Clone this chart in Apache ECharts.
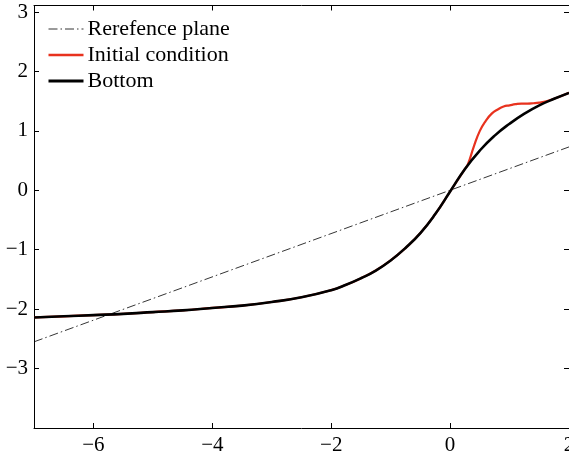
<!DOCTYPE html>
<html>
<head>
<meta charset="utf-8">
<script src="https://cdn.jsdelivr.net/npm/echarts@6/dist/echarts.min.js"></script>
<style>
  html, body { margin: 0; padding: 0; background: #fff; }
  #chart { width: 569px; height: 457px; }
</style>
</head>
<body>
<div id="chart"></div>
<script>
// values
const xBottom = [-7, -6.5, -6, -5.5, -5, -4.5, -4, -3.5, -3, -2.5, -2, -1.75, -1.5, -1.25, -1, -0.75, -0.5, -0.25, 0, 0.25, 0.5, 0.75, 1, 1.25, 1.5, 1.75, 2];
const yBottom = [-2.14, -2.12, -2.10, -2.08, -2.05, -2.02, -1.98, -1.94, -1.88, -1.80, -1.68, -1.59, -1.48, -1.35, -1.18, -0.97, -0.72, -0.40, -0.02, 0.36, 0.67, 0.92, 1.12, 1.29, 1.43, 1.54, 1.64];

const xInitial = [-7, -6.5, -6, -5.5, -5, -4.5, -4, -3.5, -3, -2.5, -2, -1.75, -1.5, -1.25, -1, -0.75, -0.5, -0.25, 0, 0.25, 0.3, 0.4, 0.5, 0.6, 0.7, 0.8, 0.9, 1.0, 1.1, 1.2, 1.3, 1.4, 1.5, 1.6, 1.75, 2];
const yInitial = [-2.14, -2.12, -2.10, -2.08, -2.05, -2.02, -1.98, -1.94, -1.88, -1.80, -1.68, -1.59, -1.48, -1.35, -1.18, -0.97, -0.72, -0.40, -0.02, 0.36, 0.44, 0.74, 1.00, 1.17, 1.29, 1.36, 1.41, 1.43, 1.45, 1.46, 1.46, 1.465, 1.475, 1.495, 1.54, 1.64];

const xPlane = [-7, 2];
const yPlane = [-2.55, 0.73];

const xTicks = [-6, -4, -2, 0, 2];
const yTicks = [-3, -2, -1, 0, 1, 2, 3];

const names = ['Rerefence plane', 'Initial condition', 'Bottom'];

const pairs = (xs, ys) => xs.map((x, i) => [x, ys[i]]);
const fmt = v => (v < 0 ? '\u2212' + Math.abs(v) : String(v));
const font = 'Liberation Serif';

const axisBase = {
	type: 'value',
	axisLine: { show: true, onZero: false, lineStyle: { color: '#000', width: 1 } },
	axisTick: { show: true, inside: true, length: 5, lineStyle: { color: '#000' } },
	splitLine: { show: false }
};

const chart = echarts.init(document.getElementById('chart'));
chart.setOption({
	animation: false,
	backgroundColor: '#fff',
	textStyle: { fontFamily: font },
	grid: { left: 34, right: 0, top: 5.5, bottom: 29, containLabel: false, outerBoundsMode: 'none' },
	legend: {
		left: 47,
		top: 18,
		padding: 0,
		orient: 'vertical',
		itemGap: 4,
		itemWidth: 35,
		itemHeight: 14,
		data: [
			{ name: names[0], lineStyle: { width: 0.8 } },
			{ name: names[1], lineStyle: { width: 2.5 } },
			{ name: names[2], lineStyle: { width: 3 } }
		],
		itemStyle: { opacity: 0 },
		textStyle: { fontFamily: font, fontSize: 22, lineHeight: 22, color: '#000', padding: [0, 0, 0, -1] }
	},
	xAxis: [
		Object.assign({}, axisBase, {
			min: -7, max: 2, position: 'bottom',
			axisTick: Object.assign({}, axisBase.axisTick, { customValues: xTicks }),
			axisLabel: { customValues: xTicks, formatter: fmt, fontFamily: font, fontSize: 21, color: '#000', margin: 7 }
		}),
		Object.assign({}, axisBase, {
			min: -7, max: 2, position: 'top',
			axisTick: Object.assign({}, axisBase.axisTick, { customValues: xTicks }),
			axisLabel: { show: false }
		})
	],
	yAxis: [
		Object.assign({}, axisBase, {
			min: -4, max: 3.11, position: 'left',
			axisTick: Object.assign({}, axisBase.axisTick, { customValues: yTicks }),
			axisLabel: { customValues: yTicks, formatter: fmt, fontFamily: font, fontSize: 21, color: '#000', margin: 6 }
		}),
		Object.assign({}, axisBase, {
			min: -4, max: 3.11, position: 'right',
			axisTick: Object.assign({}, axisBase.axisTick, { customValues: yTicks }),
			axisLabel: { show: false }
		})
	],
	series: [
		{
			name: names[0],
			type: 'line',
			symbol: 'none',
			data: pairs(xPlane, yPlane),
			lineStyle: { color: '#000', width: 0.8, type: [9, 3, 1.5, 3] },
			itemStyle: { color: '#000' },
			z: 2
		},
		{
			name: names[1],
			type: 'line',
			symbol: 'none',
			smooth: 0.5,
			data: pairs(xInitial, yInitial),
			lineStyle: { color: '#e8321e', width: 2.2 },
			itemStyle: { color: '#e8321e' },
			z: 3
		},
		{
			name: names[2],
			type: 'line',
			symbol: 'none',
			smooth: 0.5,
			data: pairs(xBottom, yBottom),
			lineStyle: { color: '#000', width: 2.6 },
			itemStyle: { color: '#000' },
			z: 4
		}
	]
});
</script>
</body>
</html>
